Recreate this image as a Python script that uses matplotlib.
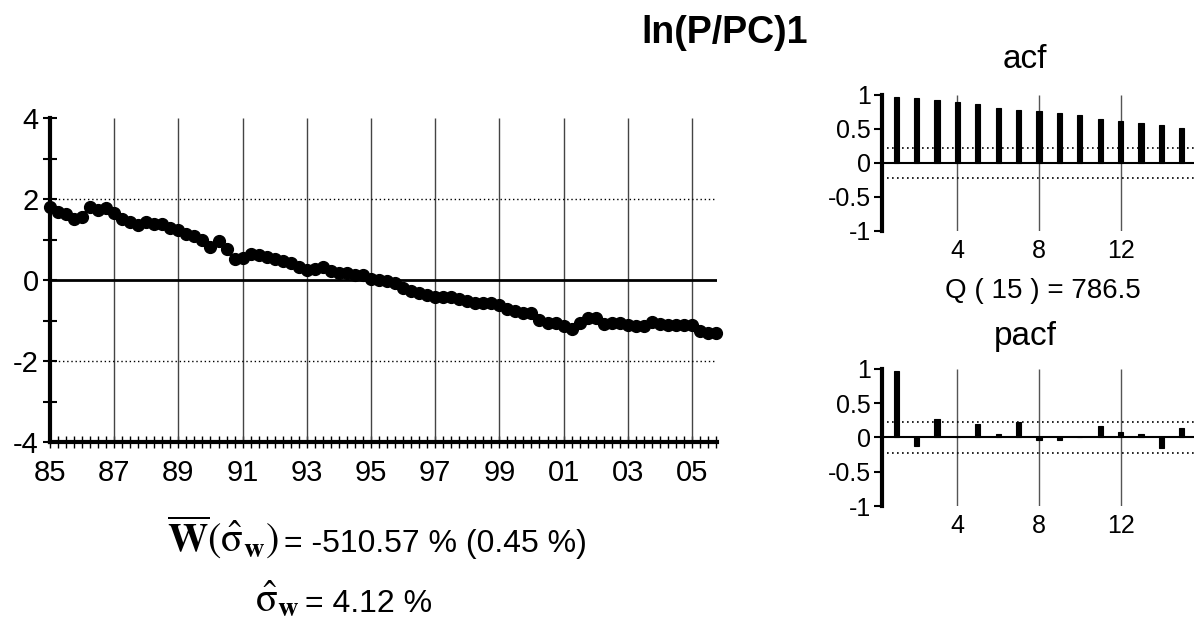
import numpy as np
import matplotlib
matplotlib.use('Agg')
import matplotlib.pyplot as plt
from matplotlib.ticker import FixedLocator, MultipleLocator

plt.rcParams['font.family'] = ['Liberation Sans', 'DejaVu Sans']
plt.rcParams['mathtext.fontset'] = 'stix'

# quarterly series, 1985Q1 .. 2005Q4
series = [1.80, 1.68, 1.64, 1.50, 1.56, 1.80, 1.74, 1.78, 1.66, 1.50,
          1.42, 1.36, 1.44, 1.38, 1.39, 1.28, 1.23, 1.13, 1.09, 0.99,
          0.82, 0.96, 0.76, 0.51, 0.54, 0.65, 0.62, 0.57, 0.51, 0.47,
          0.41, 0.31, 0.25, 0.28, 0.33, 0.21, 0.17, 0.18, 0.12, 0.12,
          0.02, 0.00, -0.03, -0.08, -0.19, -0.27, -0.31, -0.37, -0.43, -0.41,
          -0.41, -0.46, -0.52, -0.58, -0.56, -0.56, -0.62, -0.72, -0.77, -0.81,
          -0.82, -0.99, -1.05, -1.07, -1.14, -1.20, -1.07, -0.93, -0.93, -1.08,
          -1.05, -1.05, -1.11, -1.14, -1.14, -1.03, -1.08, -1.12, -1.12, -1.11,
          -1.11, -1.27, -1.32, -1.32]
start_year = 1985
lags = list(range(1, 16))
acf = [0.97, 0.956, 0.93, 0.90, 0.87, 0.815, 0.786, 0.76, 0.73, 0.71,
       0.65, 0.62, 0.59, 0.56, 0.51]
pacf = [0.966, -0.13, 0.27, 0.01, 0.19, 0.05, 0.23, -0.03, -0.03, 0.005,
        0.165, 0.08, 0.05, -0.16, 0.14]
conf = 0.22
year_ticks = list(range(1985, 2006, 2))
year_labels = ['%02d' % (y % 100) for y in year_ticks]
q_text = 'Q ( 15 ) = 786.5'
mean_sym = r'$\overline{\mathbf{W}}(\hat{\mathrm{\sigma}}_{\mathbf{w}})$'
mean_val = '= -510.57 % (0.45 %)'
sd_sym = r'$\hat{\mathrm{\sigma}}_{\mathbf{w}}$'
sd_val = '= 4.12 %'

W, H = 1194, 623
fig = plt.figure(figsize=(W / 100, H / 100), dpi=100)

# ---- main series panel
x = start_year + np.arange(len(series)) / 4.0
ax = fig.add_axes([50 / W, 1 - 442 / H, 667 / W, 324 / H])
ax.set_xlim(1985, 2005.78)
ax.set_ylim(-4, 4)
ax.vlines(year_ticks[1:], -4, 4, color='#444444', lw=1)
ax.hlines([2, -2], 1985, x[-1], color='black', lw=1, linestyles=(0, (1, 2)))
ax.axhline(0, color='black', lw=2)
ax.plot(x, series, '-o', color='black', lw=2.5, ms=8.5, clip_on=False, zorder=5)

for s in ['top', 'right']:
    ax.spines[s].set_visible(False)
ax.spines['left'].set_linewidth(3)
ax.spines['bottom'].set_linewidth(3)
ax.yaxis.set_major_locator(FixedLocator([-4, -2, 0, 2, 4]))
ax.yaxis.set_minor_locator(FixedLocator([-3, -1, 1, 3]))
ax.set_yticklabels(['-4', '-2', '0', '2', '4'])
ax.xaxis.set_major_locator(FixedLocator(year_ticks))
ax.xaxis.set_minor_locator(MultipleLocator(0.25))
ax.set_xticklabels(year_labels)
ax.tick_params(axis='y', which='both', direction='inout', length=10, width=1.5,
               labelsize=21, pad=3)
ax.tick_params(axis='x', which='both', direction='inout', length=8, width=1,
               labelsize=21, pad=8)


def corr_panel(rect, vals, title, ty):
    a = fig.add_axes(rect)
    a.set_xlim(0.3, 15.6)
    a.set_ylim(-1, 1)
    a.vlines([4, 8, 12], -1, 1, color='#555555', lw=1)
    a.axhline(0, color='black', lw=1.5)
    a.hlines([conf, -conf], 0.3, 15.6, color='black', lw=1.2, linestyles=(0, (1, 2)))
    a.bar(lags, vals, width=0.26, color='black', edgecolor='black', lw=0.8, zorder=3)
    for s in ['top', 'right', 'bottom']:
        a.spines[s].set_visible(False)
    a.spines['left'].set_linewidth(3)
    a.set_yticks([-1, -0.5, 0, 0.5, 1])
    a.set_yticklabels(['-1', '-0.5', '0', '0.5', '1'])
    a.set_xticks([4, 8, 12])
    a.tick_params(axis='y', direction='out', length=6, width=1.5, labelsize=18, pad=2)
    a.tick_params(axis='x', length=0, labelsize=18, pad=6)
    fig.text(1025 / W, 1 - ty / H, title, fontsize=24, ha='center', va='center')
    return a


corr_panel([882 / W, 1 - 231 / H, 312 / W, 136 / H], acf, 'acf', 60)
corr_panel([882 / W, 1 - 506 / H, 312 / W, 137 / H], pacf, 'pacf', 336)
fig.text(1043 / W, 1 - 291 / H, q_text, fontsize=20, ha='center', va='center')

fig.text(725 / W, 1 - 33 / H, 'ln(P/PC)1', fontsize=27, fontweight='bold',
         ha='center', va='center')

# statistics under the series panel: symbol part larger, serif
fig.text(279 / W, 1 - 552 / H, mean_sym, fontsize=29, ha='right', va='baseline')
fig.text(284 / W, 1 - 552 / H, mean_val, fontsize=23, ha='left', va='baseline')
fig.text(300 / W, 1 - 612 / H, sd_sym, fontsize=29, ha='right', va='baseline')
fig.text(305 / W, 1 - 612 / H, sd_val, fontsize=23, ha='left', va='baseline')

fig.savefig('out.png', dpi=100)
